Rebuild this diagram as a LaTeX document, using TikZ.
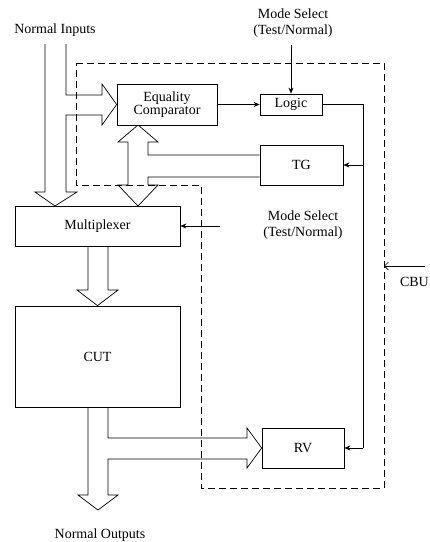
\documentclass[tikz,border=0pt]{standalone}
\usepackage{fontspec}
\setmainfont{Liberation Serif}
\usetikzlibrary{arrows.meta}

\begin{document}
\begin{tikzpicture}[x=1pt, y=-1pt,
    box/.style={draw, line width=0.7pt, inner sep=0pt, align=center,
                font=\fontsize{14}{16}\selectfont},
    lbl/.style={inner sep=0pt, align=center, font=\fontsize{14}{16}\selectfont},
    arr/.style={-{Stealth[length=6pt, width=5pt]}, line width=0.7pt},
    fat/.style={draw, line width=0.7pt, line join=miter},
    bist/.style={dash pattern=on 7pt off 4pt, line width=0.6pt}
  ]
    \useasboundingbox (0,0) rectangle (430,542);

    % blocks
    \node[box, minimum width=100pt, minimum height=41pt,
          font=\fontsize{14}{11.5}\selectfont] (cmp) at (167,104.5) {Equality\\Comparator};
    \node[box, minimum width=62pt, minimum height=21pt] (logic) at (291,104.5) {Logic};
    \node[box, minimum width=83pt, minimum height=40pt] (tg) at (301.5,165) {TG};
    \node[box, minimum width=165pt, minimum height=40pt] (mux) at (97.5,226) {Multiplexer};
    \node[box, minimum width=165pt, minimum height=101pt] (cut) at (97.5,356.5) {CUT};
    \node[box, minimum width=82pt, minimum height=40pt] (rv) at (303,448) {RV};

    % labels
    \node[lbl] (inp) at (55,30) {Normal Inputs};
    \node[lbl] (outp) at (100,535) {Normal Outputs};
    \node[lbl] (mode1) at (293,23) {Mode Select\\(Test/Normal)};
    \node[lbl] (mode2) at (303,225) {Mode Select\\(Test/Normal)};
    \node[lbl, anchor=east] (cbu) at (429,282) {CBU};

    % BIST boundary
    \draw[bist] (76,63) -- (384,63) -- (384,488) -- (201,488) -- (201,185) -- (76,185) -- cycle;

    % bus arrows
    \draw[fat] (45,44) -- (45,192) -- (35,192) -- (55,206) -- (77,192) -- (66,192)
        -- (66,115) -- (102,115) -- (102,125) -- (cmp.west) -- (102,84) -- (102,95)
        -- (66,95) -- (66,44);
    \draw[fat] (tg.west |- 0,155) -- (148,155) -- (148,142) -- (158,142) -- (138,125)
        -- (118,142) -- (128,142) -- (128,185) -- (118,185) -- (138,206) -- (158,185)
        -- (148,185) -- (148,177) -- (tg.west |- 0,177);
    \draw[fat] (88,246) -- (88,290) -- (77,290) -- (mux.center |- cut.north) -- (118,290)
        -- (108,290) -- (108,246);
    \draw[fat] (88,407) -- (88,495) -- (78,495) -- (98,510) -- (118,495) -- (108,495)
        -- (108,459) -- (247,459) -- (247,468) -- (rv.west) -- (247,428) -- (247,438)
        -- (108,438) -- (108,407);

    % control lines
    \coordinate (bus) at (363,104.5);
    \draw[arr] (cmp.east) -- (logic.west);
    \draw[arr] (logic.north |- 0,45) -- (logic.north);
    \draw[line width=0.7pt] (logic.east) -- (bus) -- (bus |- rv.east);
    \draw[arr] (bus |- tg.east) -- (tg.east);
    \draw[arr] (bus |- rv.east) -- (rv.east);
    \draw[arr] (220,226) -- (mux.east);
    \draw[-{Straight Barb[length=4pt]}, line width=0.6pt] (425,266) -- (384,266);
\end{tikzpicture}
\end{document}
